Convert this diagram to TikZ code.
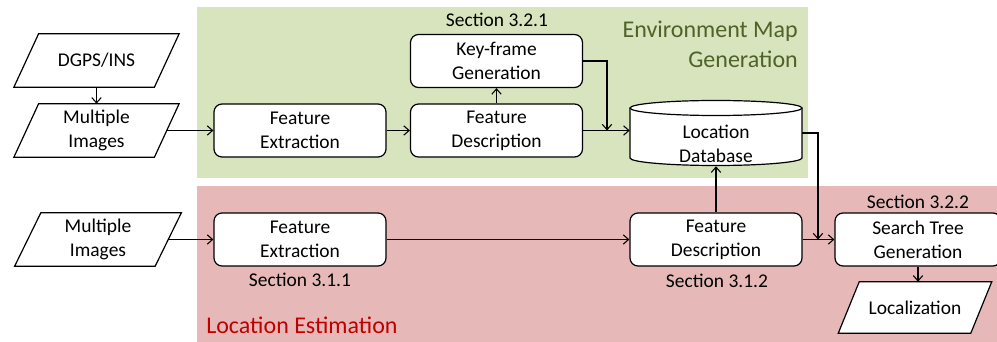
\documentclass[tikz,border=0pt]{standalone}
\usepackage{fontspec}
\setmainfont{Carlito}
\usetikzlibrary{arrows.meta,calc}
\definecolor{envgreen}{HTML}{D7E4BD}
\definecolor{locpink}{HTML}{E6B9B8}
\definecolor{envtitle}{HTML}{4F6228}
\definecolor{loctitle}{HTML}{C00000}
\tikzset{
  txt/.style={font=\fontsize{14.6}{18}\selectfont, align=center, inner sep=0pt},
  proc/.style={txt, draw, line width=0.9pt, rounded corners=6pt, fill=white,
    minimum width=172*0.75pt, minimum height=53*0.75pt},
  ghost/.style={txt, minimum width=140*0.75pt, minimum height=53*0.75pt},
  paraline/.style={draw, line width=0.9pt, fill=white},
  arr/.style={line width=0.8pt, -{Straight Barb[length=4pt,width=7pt]}},
  sect/.style={txt},
  title/.style={font=\fontsize{18}{22.5}\selectfont, inner sep=0pt}
}
\newcommand\paraDraw[2]{% node name, half slant
  \path[paraline] ($(#1.north west)+(#2,0)$) -- ($(#1.north east)+(#2,0)$)
    -- ($(#1.south east)+(-#2,0)$) -- ($(#1.south west)+(-#2,0)$) -- cycle;}
\begin{document}
\begin{tikzpicture}[x=0.75pt,y=-0.75pt]
\useasboundingbox (0,0) rectangle (997,342);
\clip (0,0) rectangle (997,342);
% regions
\fill[envgreen] (197,7) rectangle (808,178);
\fill[locpink] (197,186) rectangle (997,342);
\node[title, text=envtitle, align=right, anchor=east] (envt) at (798,44) {Environment Map\\Generation};
\node[title, text=loctitle, anchor=west] (loct) at (206,325) {Location Estimation};
% parallelogram ghosts
\node[ghost] (dgps) at (96.5,60.5) {};
\node[ghost] (mi1) at (96.5,130.5) {};
\node[ghost] (mi2) at (98,239.5) {};
\node[ghost, minimum width=132*0.75pt, minimum height=51*0.75pt] (loc) at (915,307.5) {};
\paraDraw{dgps}{16.5*0.75}
\paraDraw{mi1}{16.5*0.75}
\paraDraw{mi2}{17.5*0.75}
\paraDraw{loc}{14*0.75}
\node[txt] at (dgps) {DGPS/INS};
\node[txt] at (mi1) {Multiple\\Images};
\node[txt] at (mi2) {Multiple\\Images};
\node[txt] at (loc) {Localization};
% process boxes
\node[proc] (fe1) at (300,130.5) {Feature\\Extraction};
\node[proc] (fd1) at (496.5,130.5) {Feature\\Description};
\node[proc] (kg) at (496.5,61) {Key-frame\\Generation};
\node[proc] (fe2) at (300,239.5) {Feature\\Extraction};
\node[proc] (fd2) at (716,239.5) {Feature\\Description};
\node[proc, minimum width=166*0.75pt] (stg) at (918,239.5) {Search Tree\\Generation};
% cylinder
\node[txt, minimum width=172*0.75pt, minimum height=66*0.75pt] (ld) at (716,133) {};
\path[draw, line width=0.9pt, fill=white] (630,108) -- (630,158)
  arc[start angle=180, end angle=360, x radius=86*0.75pt, y radius=7.5*0.75pt]
  -- (802,108);
\draw[line width=0.9pt, fill=white] (716,108) ellipse[x radius=86*0.75pt, y radius=7.5*0.75pt];
\node[txt] at (716,143.5) {Location\\Database};
% section labels
\node[sect] (s321) at (497,20) {Section 3.2.1};
\node[sect] (s311) at (300,280) {Section 3.1.1};
\node[sect] (s312) at (717,281) {Section 3.1.2};
\node[sect] (s322) at (918,202) {Section 3.2.2};
% junction coordinates
\coordinate (j1) at (607,130.5);
\coordinate (j2) at (818,239.5);
% connectors
\draw[arr] (dgps.south) -- (mi1.north);
\draw[arr] (mi1.east) -- (fe1.west);
\draw[arr] (fe1.east) -- (fd1.west);
\draw[arr] (fd1.north) -- (kg.south);
\draw[arr] (fd1.east) -- (fd1.east -| ld.west);
\draw[arr] (kg.east) -| (j1);
\draw[arr] (ld.east) -| (j2);
\draw[arr] (mi2.east) -- (fe2.west);
\draw[arr] (fe2.east) -- (fd2.west);
\draw[arr] (fd2.north) -- (fd2.north |- ld.south);
\draw[arr] (fd2.east) -- (stg.west);
\draw[arr] (stg.south) -- (stg.south |- loc.north);
\end{tikzpicture}
\end{document}
